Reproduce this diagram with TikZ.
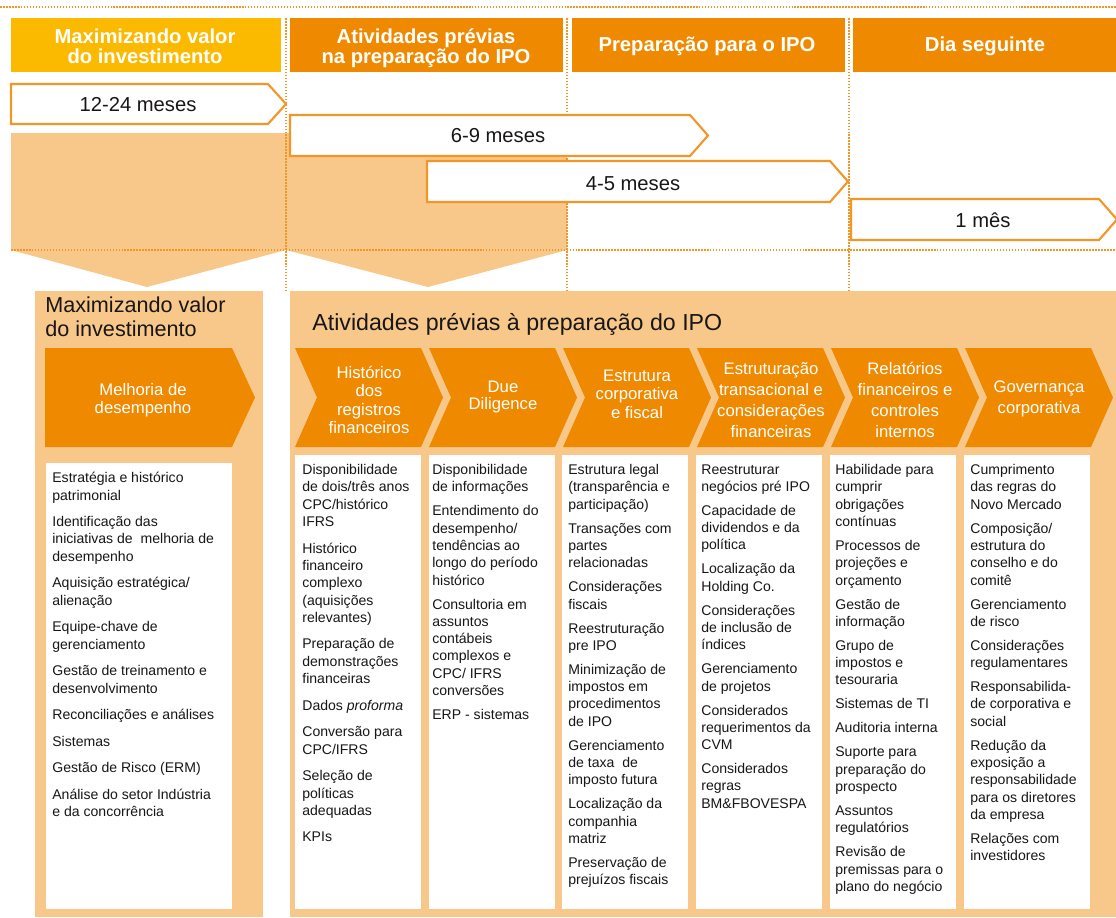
\documentclass[tikz,border=0pt]{standalone}
\usepackage{fontspec}
\setmainfont{Liberation Sans}
\usepackage{tikz}
\usetikzlibrary{positioning}
\definecolor{ipoOrange}{RGB}{239,138,0}
\definecolor{ipoYellow}{RGB}{251,186,0}
\definecolor{ipoLight}{RGB}{248,200,138}
\definecolor{ipoLine}{RGB}{242,150,40}
\definecolor{ipoText}{RGB}{25,22,22}

\begin{document}
\begin{tikzpicture}[x=0.02cm,y=-0.02cm,
   dots/.style={ipoLine,line width=1pt,dash pattern=on 0.9pt off 0.8pt},
   hdr/.style={text=white,align=center,inner sep=0pt,font=\fontsize{11.5}{11.3}\selectfont\bfseries},
   span/.style={draw=ipoLine,fill=white,line width=1.2pt},
   spantxt/.style={text=ipoText,inner sep=0pt,anchor=base,font=\fontsize{11.5}{13}\selectfont},
   sectxt/.style={text=ipoText,align=left,inner sep=0pt},
   chevtxt/.style={text=white,align=center,inner sep=0pt},
   listtxt/.style={text=ipoText,align=left,inner sep=0pt,anchor=north west,font=\fontsize{8}{9.85}\selectfont}]
   \useasboundingbox (0,0) rectangle (1116,917);

   \draw[dots] (0,7) -- (1116,7);
   \fill[ipoYellow] (11,18) rectangle (281,72);
   \fill[ipoOrange] (290,18) rectangle (563,72);
   \fill[ipoOrange] (572,18) rectangle (845,72);
   \fill[ipoOrange] (853,18) rectangle (1116,72);
   \node[hdr] (hd_inv) at (145,46) {Maximizando valor\\do investimento};
   \node[hdr] (hd_prev) at (426,48) {Atividades prévias\\na preparação do IPO};
   \node[hdr,anchor=base] (hd_prep) at (707,51) {Preparação para o IPO};
   \node[hdr,anchor=base] (hd_day) at (985,51) {Dia seguinte};

   \fill[ipoLight] (11,133) rectangle (567,250);
   \fill[ipoLight] (11,250) -- (286,250) -- (147,287) -- cycle;
   \fill[ipoLight] (286,250) -- (567,250) -- (428,287) -- cycle;
   \foreach \x in {286,567,849} \draw[dots] (\x,18) -- (\x,290);
   \draw[dots] (11,250) -- (1116,250);

   \draw[span] (11,84) -- (268,84) -- (286,104) -- (268,124) -- (11,124) -- cycle;
   \draw[span] (290,115) -- (690,115) -- (708,135.5) -- (690,156) -- (290,156) -- cycle;
   \draw[span] (427,161) -- (830,161) -- (848,181.5) -- (830,202) -- (427,202) -- cycle;
   \draw[span] (851,199) -- (1099,199) -- (1117,219.5) -- (1099,240) -- (851,240) -- cycle;
   \node[spantxt] (dur_a) at (138,111) {12-24 meses};
   \node[spantxt] (dur_b) at (498,142) {6-9 meses};
   \node[spantxt] (dur_c) at (633,190) {4-5 meses};
   \node[spantxt] (dur_d) at (983,227) {1 mês};

   \fill[ipoLight] (35,291) rectangle (263,917);
   \fill[ipoLight] (290,291) rectangle (1116,917);
   \node[sectxt,anchor=north west,font=\fontsize{12.3}{14}\selectfont] (sec_inv) at (45,296)
      {Maximizando valor\\do investimento};
   \node[sectxt,anchor=base west,font=\fontsize{13.2}{14}\selectfont] (sec_prev) at (312,330)
      {Atividades prévias à preparação do IPO};

   \fill[ipoOrange] (45,348) -- (232,348) -- (255,397.5) -- (232,447) -- (45,447) -- cycle;
   \node[chevtxt,font=\fontsize{9.5}{10.5}\selectfont] (ch_inv) at (143,400) {Melhoria de\\desempenho};
   \foreach \i/\txt/\y/\bs in {0/{Histórico\\dos\\registros\\financeiros}/400/10.5,
                              1/{Due\\Diligence}/397/10,
                              2/{Estrutura\\corporativa\\e fiscal}/394/10.5,
                              3/{Estruturação\\transacional e\\considerações\\financeiras}/400/12,
                              4/{Relatórios\\financeiros e\\controles\\internos}/400/12,
                              5/{Governança\\corporativa}/399/12} {
      \fill[ipoOrange] ({295+134*\i},348) -- ({421+134*\i},348) -- ({443+134*\i},397.5)
         -- ({421+134*\i},447) -- ({295+134*\i},447) -- ({317+134*\i},397.5) -- cycle;
      \node[chevtxt,font=\fontsize{9.5}{\bs}\selectfont] (ch_\i) at ({369+134*\i},\y) {\txt};
   }

   \fill[white] (46,463) rectangle (232,909);
   \foreach \i in {0,...,5} \fill[white] ({295+133.7*\i},455) rectangle ({421+133.7*\i},909);

   \node[listtxt] (ls_inv) at (52,472) {Estratégia e histórico\\patrimonial\\[5.3pt]
      Identificação das\\iniciativas de\ \ melhoria de\\desempenho\\[5.3pt]
      Aquisição estratégica/\\alienação\\[5.3pt]
      Equipe-chave de\\gerenciamento\\[5.3pt]
      Gestão de treinamento e\\desenvolvimento\\[5.3pt]
      Reconciliações e análises\\[5.3pt]
      Sistemas\\[5.3pt]
      Gestão de Risco (ERM)\\[5.3pt]
      Análise do setor Indústria\\e da concorrência};
   \node[listtxt] (ls_0) at (302,464) {Disponibilidade\\de dois/três anos\\CPC/histórico\\IFRS\\[5.3pt]
      Histórico\\financeiro\\complexo\\(aquisições\\relevantes)\\[5.3pt]
      Preparação de\\demonstrações\\financeiras\\[5.3pt]
      Dados \textit{proforma}\\[5.3pt]
      Conversão para\\CPC/IFRS\\[5.3pt]
      Seleção de\\políticas\\adequadas\\[5.3pt]
      KPIs};
   \node[listtxt] (ls_1) at (432,464) {Disponibilidade\\de informações\\[3.8pt]
      Entendimento do\\desempenho/\\tendências ao\\longo do período\\histórico\\[3.8pt]
      Consultoria em\\assuntos\\contábeis\\complexos e\\CPC/ IFRS\\conversões\\[3.8pt]
      ERP - sistemas};
   \node[listtxt] (ls_2) at (568,464) {Estrutura legal\\(transparência e\\participação)\\[3.8pt]
      Transações com\\partes\\relacionadas\\[3.8pt]
      Considerações\\fiscais\\[3.8pt]
      Reestruturação\\pre IPO\\[3.8pt]
      Minimização de\\impostos em\\procedimentos\\de IPO\\[3.8pt]
      Gerenciamento\\de taxa\ \ de\\imposto futura\\[3.8pt]
      Localização da\\companhia\\matriz\\[3.8pt]
      Preservação de\\prejuízos fiscais};
   \node[listtxt] (ls_3) at (701,464) {Reestruturar\\negócios pré IPO\\[3.8pt]
      Capacidade de\\dividendos e da\\política\\[3.8pt]
      Localização da\\Holding Co.\\[3.8pt]
      Considerações\\de inclusão de\\índices\\[3.8pt]
      Gerenciamento\\de projetos\\[3.8pt]
      Considerados\\requerimentos da\\CVM\\[3.8pt]
      Considerados\\regras\\BM\&FBOVESPA};
   \node[listtxt] (ls_4) at (835,464) {Habilidade para\\cumprir\\obrigações\\contínuas\\[3.8pt]
      Processos de\\projeções e\\orçamento\\[3.8pt]
      Gestão de\\informação\\[3.8pt]
      Grupo de\\impostos e\\tesouraria\\[3.8pt]
      Sistemas de TI\\[3.8pt]
      Auditoria interna\\[3.8pt]
      Suporte para\\preparação do\\prospecto\\[3.8pt]
      Assuntos\\regulatórios\\[3.8pt]
      Revisão de\\premissas para o\\plano do negócio};
   \node[listtxt] (ls_5) at (970,464) {Cumprimento\\das regras do\\Novo Mercado\\[3.8pt]
      Composição/\\estrutura do\\conselho e do\\comitê\\[3.8pt]
      Gerenciamento\\de risco\\[3.8pt]
      Considerações\\regulamentares\\[3.8pt]
      Responsabilida-\\de corporativa e\\social\\[3.8pt]
      Redução da\\exposição a\\responsabilidade\\para os diretores\\da empresa\\[3.8pt]
      Relações com\\investidores};
\end{tikzpicture}
\end{document}
